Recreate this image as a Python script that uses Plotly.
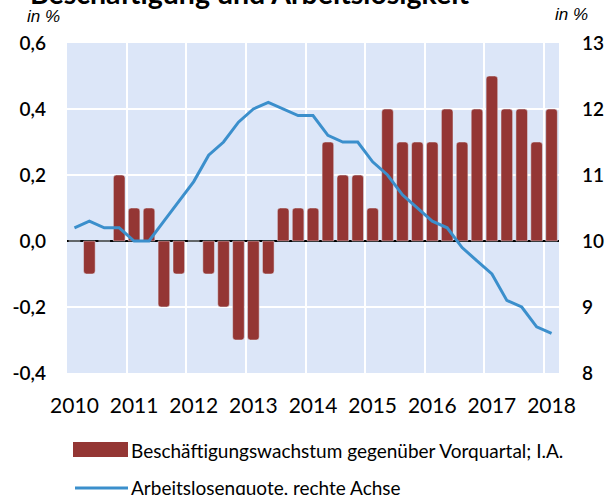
import plotly.graph_objects as go

years = ["2010", "2011", "2012", "2013", "2014", "2015", "2016", "2017", "2018"]
quarters = list(range(33))  # 2010Q1 ... 2018Q1

employment_growth = [0.0, -0.1, 0.0, 0.2, 0.1, 0.1, -0.2, -0.1, 0.0, -0.1,
                     -0.2, -0.3, -0.3, -0.1, 0.1, 0.1, 0.1, 0.3, 0.2, 0.2,
                     0.1, 0.4, 0.3, 0.3, 0.3, 0.4, 0.3, 0.4, 0.5, 0.4,
                     0.4, 0.3, 0.4]
unemployment_rate = [10.2, 10.3, 10.2, 10.2, 10.0, 10.0, 10.3, 10.6, 10.9, 11.3,
                     11.5, 11.8, 12.0, 12.1, 12.0, 11.9, 11.9, 11.6, 11.5, 11.5,
                     11.2, 11.0, 10.7, 10.5, 10.3, 10.2, 9.9, 9.7, 9.5, 9.1,
                     9.0, 8.7, 8.6]

left_ticks = [-0.4, -0.2, 0.0, 0.2, 0.4, 0.6]
left_ticktext = ["-0,4", "-0,2", "0,0", "0,2", "0,4", "0,6"]
right_ticks = [8, 9, 10, 11, 12, 13]

BAR_NAME = "Beschäftigungswachstum gegenüber Vorquartal; I.A."
LINE_NAME = "Arbeitslosenquote, rechte Achse"
BAR_COLOR = "#943634"
LINE_COLOR = "#3b8fcc"
FONT = "Lato"

fig = go.Figure()
fig.add_trace(go.Bar(
    x=quarters, y=employment_growth, name=BAR_NAME,
    marker=dict(color=BAR_COLOR), width=0.78, showlegend=False,
))
fig.add_trace(go.Scatter(
    x=quarters, y=unemployment_rate, yaxis="y2", mode="lines", name=LINE_NAME,
    line=dict(color=LINE_COLOR, width=3), showlegend=False,
))

W, H = 608, 495
L, R, T, B = 67, 49, 43, 122
PW, PH = W - L - R, H - T - B


def px(x):
    return (x - L) / PW


def py(y):
    return 1 - (y - T) / PH


fig.update_layout(
    width=W, height=H,
    margin=dict(l=L, r=R, t=T, b=B, autoexpand=False),
    paper_bgcolor="white",
    plot_bgcolor="#dce6f8",
    barcornerradius=3,
    font=dict(family=FONT, color="black"),
    xaxis=dict(range=[-0.5, 32.5], tickmode="array",
               tickvals=[0, 4, 8, 12, 16, 20, 24, 28, 32], ticktext=years,
               showgrid=False, zeroline=False, showline=False, ticks="",
               tickangle=0, automargin=False,
               ticklabelstandoff=18,
               tickfont=dict(size=21, family=FONT, color="black"),
               minor=dict(tickmode="linear", tick0=3.5, dtick=4,
                          showgrid=True, gridcolor="white", gridwidth=1.5, ticks="")),
    yaxis=dict(range=[-0.4, 0.6], tickmode="array", tickvals=left_ticks,
               ticktext=left_ticktext, automargin=False,
               showgrid=True, gridcolor="white", gridwidth=1.5,
               zeroline=True, zerolinecolor="black", zerolinewidth=2,
               ticklabelstandoff=20,
               tickfont=dict(size=19, family=FONT, color="black", weight=600)),
    yaxis2=dict(range=[8, 13], tickmode="array", tickvals=right_ticks,
                overlaying="y", side="right", automargin=False,
                showgrid=False, zeroline=False, ticklabelstandoff=22,
                tickfont=dict(size=19, family=FONT, color="black", weight=600)),
    showlegend=False,
    shapes=[
        dict(type="rect", xref="paper", yref="paper",
             x0=px(73), x1=px(128), y0=py(457), y1=py(442),
             fillcolor=BAR_COLOR, line=dict(width=0)),
        dict(type="line", xref="paper", yref="paper",
             x0=px(75), x1=px(128), y0=py(488), y1=py(488),
             line=dict(color=LINE_COLOR, width=3)),
    ],
    annotations=[
        dict(text="<b>Beschäftigung und Arbeitslosigkeit</b>", xref="paper", yref="paper",
             x=px(28), y=py(-7), xanchor="left", yanchor="middle", showarrow=False,
             font=dict(family=FONT, size=28.5, color="black")),
        dict(text="<i>in %</i>", xref="paper", yref="paper", x=px(25), y=py(17),
             xanchor="left", yanchor="middle", showarrow=False,
             font=dict(family="Liberation Sans", size=17, color="black")),
        dict(text="<i>in %</i>", xref="paper", yref="paper", x=px(553), y=py(15),
             xanchor="left", yanchor="middle", showarrow=False,
             font=dict(family="Liberation Sans", size=17, color="black")),
        dict(text=BAR_NAME, xref="paper", yref="paper", x=px(129), y=py(450),
             xanchor="left", yanchor="middle", showarrow=False,
             font=dict(family=FONT, size=19, color="black")),
        dict(text=LINE_NAME, xref="paper", yref="paper", x=px(129), y=py(488),
             xanchor="left", yanchor="middle", showarrow=False,
             font=dict(family=FONT, size=19, color="black")),
    ],
)

fig.write_html("out.html",
               config={"displayModeBar": False},
               post_script="document.body.style.margin='0';document.body.style.overflow='hidden';")
